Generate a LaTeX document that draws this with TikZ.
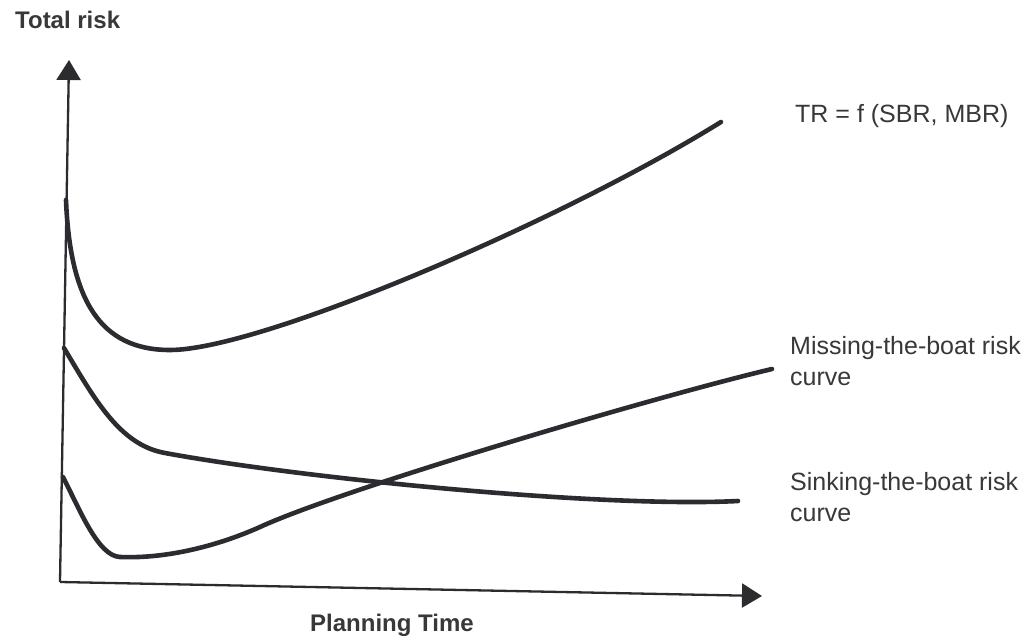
\documentclass[tikz,border=0pt]{standalone}
\usepackage{fontspec}
\setmainfont{Liberation Sans}
\usetikzlibrary{arrows.meta}
\definecolor{ink}{HTML}{2B2B30}
\definecolor{txt}{HTML}{383838}
\tikzset{
  axisline/.style={draw=ink, line width=2.3pt, -{Triangle[length=20pt,width=24pt]}},
  riskcurve/.style={draw=ink, line width=4.6pt, line cap=round, line join=round},
  axislabel/.style={text=txt, font=\fontsize{24}{28}\selectfont\bfseries, inner sep=0pt},
  curvelabel/.style={text=txt, font=\fontsize{25}{30}\selectfont, inner sep=0pt, anchor=base west},
}
\begin{document}
\begin{tikzpicture}[x=1pt, y=-1pt]
  \useasboundingbox (0,0) rectangle (1029,642);
  \fill[white] (0,0) rectangle (1029,642);

  % axes
  \coordinate (O) at (60,582);
  \coordinate (ytip) at (69,60);
  \coordinate (xtip) at (762,596);
  \draw[axisline] (O) -- (ytip);
  \draw[axisline] (O) -- (xtip);

  % total risk curve
  \draw[riskcurve] (66,200) .. controls (70,300) and (100,350) .. (170,350)
                   .. controls (260,350) and (560,222) .. (721,122);

  % sinking-the-boat risk curve
  \draw[riskcurve] (64,348) .. controls (95,400) and (120,445) .. (165,453)
                   .. controls (300,478) and (600,508) .. (738,501);

  % missing-the-boat risk curve
  \draw[riskcurve] (63,477) .. controls (80,510) and (98,556) .. (120,557)
                   .. controls (170,559) and (222,544) .. (260,527)
                   .. controls (340,490) and (650,398) .. (772,369);

  % labels
  \node[axislabel, anchor=base west] (ylab) at (15,29) {Total risk};
  \node[axislabel, anchor=base west] (xlab) at (310,631) {Planning Time};
  \node[curvelabel] (tr) at (795,122) {TR = f (SBR, MBR)};
  \node[curvelabel] (mbr1) at (790,354) {Missing-the-boat risk};
  \node[curvelabel] (mbr2) at (790,385) {curve};
  \node[curvelabel] (sbr1) at (790,490) {Sinking-the-boat risk};
  \node[curvelabel] (sbr2) at (790,521) {curve};
\end{tikzpicture}
\end{document}
